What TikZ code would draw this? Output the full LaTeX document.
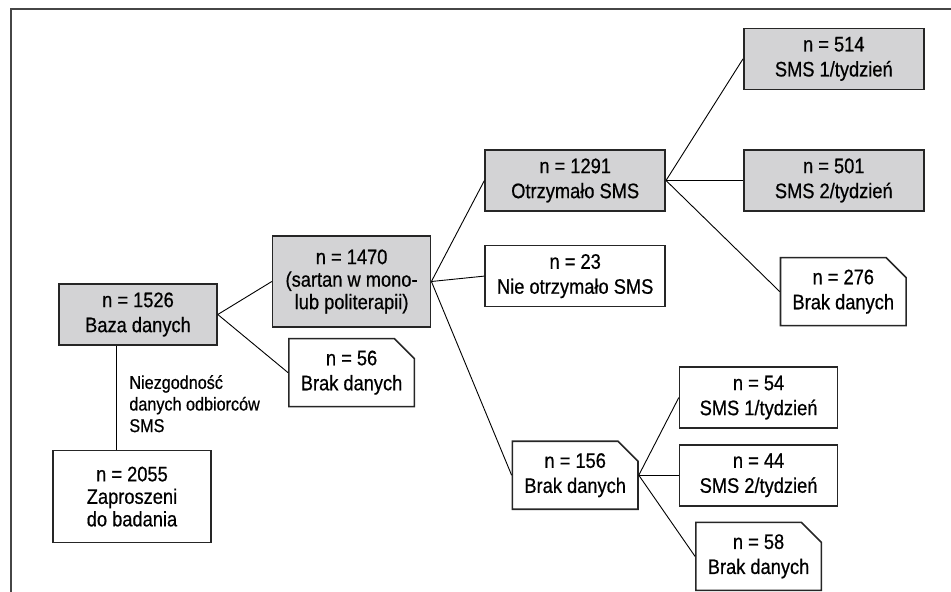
\documentclass[tikz,border=0pt]{standalone}
\usepackage{fontspec}
\setmainfont{Liberation Sans}[FakeStretch=0.87,FakeBold=0.6]
\usepackage{xcolor}
\usepackage{tikz}
\usetikzlibrary{positioning,shapes.misc}
\definecolor{boxgray}{RGB}{211,211,213}
\definecolor{framegray}{RGB}{70,70,70}

\begin{document}
\begin{tikzpicture}[
  every node/.style={font=\fontsize{10.5}{12.5}\selectfont},
  cohort/.style={draw=black!85,line width=0.8pt,minimum height=30.5pt,
                 align=center,inner sep=1pt},
  shaded/.style={cohort,fill=boxgray},
  nodata/.style={cohort,chamfered rectangle,
                 chamfered rectangle corners=north east,
                 chamfered rectangle xsep=5pt,chamfered rectangle ysep=5pt,
                 minimum width=59.5pt},
  tall/.style={font=\fontsize{10.5}{11.25}\selectfont},
  note/.style={font=\fontsize{9.3}{10.8}\selectfont,align=left,inner sep=0pt},
  link/.style={line width=0.45pt},
]
  \useasboundingbox (0,0) rectangle (475.5pt,-296pt);
  \draw[framegray,line width=1pt] (5.5pt,-296pt) -- (5.5pt,-4.5pt) -- (475.5pt,-4.5pt);

  \node[shaded, minimum width=79pt] (baza) at (69pt,-157.25pt)
    {n = 1526\\Baza danych};
  \node[shaded, tall, minimum width=79pt, minimum height=45.5pt,
        right=27pt of baza, yshift=16.5pt] (n1470)
    {n = 1470\\(sartan w mono-\\lub politerapii)};
  \node[nodata, below=5pt of n1470] (brak56) {n = 56\\Brak danych};
  \node[cohort, tall, minimum width=79pt, minimum height=46pt,
        below=52pt of baza, xshift=-3pt] (n2055)
    {n = 2055\\Zaproszeni\\do badania};

  \node[shaded, minimum width=90pt, right=26.5pt of n1470, yshift=50.5pt] (n1291)
    {n = 1291\\Otrzymało SMS};
  \node[cohort, minimum width=90pt, below=16.5pt of n1291] (n23)
    {n = 23\\Nie otrzymało SMS};
  \node[nodata, below=66.5pt of n23] (brak156) {n = 156\\Brak danych};

  \node[shaded, minimum width=90pt, right=38.5pt of n1291] (n501)
    {n = 501\\SMS 2/tydzień};
  \node[shaded, minimum width=90pt, above=29.5pt of n501] (n514)
    {n = 514\\SMS 1/tydzień};
  \node[nodata, below=22.5pt of n501, xshift=4.75pt] (brak276)
    {n = 276\\Brak danych};

  \node[cohort, minimum width=79pt, right=20pt of brak156] (n44)
    {n = 44\\SMS 2/tydzień};
  \node[cohort, minimum width=79pt, above=7.5pt of n44] (n54)
    {n = 54\\SMS 1/tydzień};
  \node[nodata, below=7.5pt of n44] (brak58) {n = 58\\Brak danych};

  % Baza -> Zaproszeni
  \coordinate (split) at ([xshift=-11pt]baza.south);
  \draw[link] (split) -- (split |- n2055.north);
  \node[note, below right=14.5pt and 6.5pt of split] (niezg)
    {Niezgodność\\danych odbiorców\\SMS};

  \draw[link] (baza.east) -- (n1470.west);
  \draw[link] (baza.east) -- (brak56.west);
  \draw[link] (n1470.east) -- (n1291.west);
  \draw[link] (n1470.east) -- (n23.west);
  \draw[link] (n1470.east) -- (brak156.west);
  \draw[link] (n1291.east) -- (n514.west);
  \draw[link] (n1291.east) -- (n501.west);
  \draw[link] (n1291.east) -- (brak276.west);
  \draw[link] (brak156.east) -- (n54.west);
  \draw[link] (brak156.east) -- (n44.west);
  \draw[link] (brak156.east) -- (brak58.west);
\end{tikzpicture}
\end{document}
